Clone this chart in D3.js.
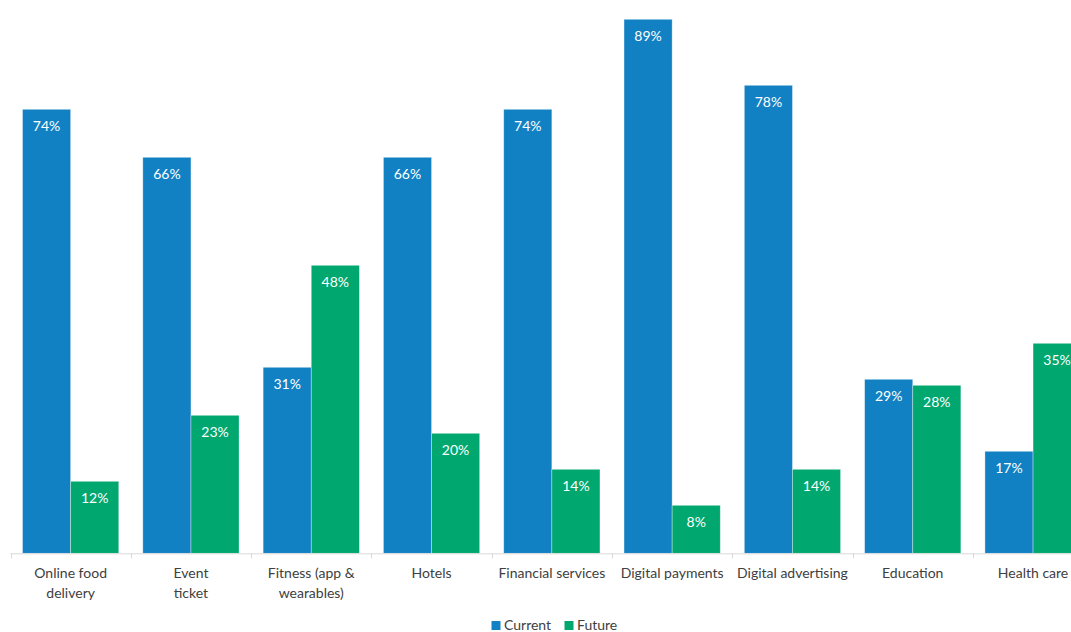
<!DOCTYPE html>
<html>
<head>
<meta charset="utf-8">
<script src="https://cdn.jsdelivr.net/npm/d3@7"></script>
<style>
  html, body { margin: 0; padding: 0; background: #fff; }
  svg { display: block; font-family: "Lato", "Open Sans", sans-serif; }
</style>
</head>
<body>
<svg id="chart" width="1071" height="632"></svg>
<script>
// Share of users by sector, current vs. future
const categories = [
  ["Online food", "delivery"],
  ["Event", "ticket"],
  ["Fitness (app &", "wearables)"],
  ["Hotels"],
  ["Financial services"],
  ["Digital payments"],
  ["Digital advertising"],
  ["Education"],
  ["Health care"]
];
const currentValues = [74, 66, 31, 66, 74, 89, 78, 29, 17];
const futureValues  = [12, 23, 48, 20, 14, 8, 14, 28, 35];
const seriesNames = ["Current", "Future"];
const seriesColors = ["#1181c4", "#00a870"];

const svg = d3.select("#chart");
const baseY = 553.3;
const step = 120.3;
const left = 10.5;

const keys = categories.map((c, i) => i);
const x0 = d3.scaleBand()
  .domain(keys)
  .range([left, left + step * categories.length])
  .paddingInner(0.2)
  .paddingOuter(0.1);
const x1 = d3.scaleBand()
  .domain(seriesNames)
  .range([0, x0.bandwidth()]);
const y = d3.scaleLinear().domain([0, 100]).range([baseY, baseY - 600]);

const rows = keys.map(i => ({ i, values: [currentValues[i], futureValues[i]] }));

const groups = svg.append("g").selectAll("g")
  .data(rows)
  .join("g")
  .attr("transform", d => `translate(${x0(d.i)},0)`);

const bars = groups.selectAll("g")
  .data(d => d.values.map((v, s) => ({ v, s })))
  .join("g");

bars.append("rect")
  .attr("x", d => x1(seriesNames[d.s]))
  .attr("y", d => y(d.v))
  .attr("width", x1.bandwidth())
  .attr("height", d => baseY - y(d.v))
  .attr("fill", d => seriesColors[d.s])
  .attr("stroke", "#ffffff")
  .attr("stroke-opacity", 0.45)
  .attr("stroke-width", 0.75);

bars.append("text")
  .attr("x", d => x1(seriesNames[d.s]) + x1.bandwidth() / 2)
  .attr("y", d => y(d.v) + 22)
  .attr("text-anchor", "middle")
  .attr("fill", "#ffffff")
  .attr("font-size", 14)
  .text(d => d.v + "%");

// category axis
const axisSpan = x0.range();
svg.append("line")
  .attr("x1", axisSpan[0]).attr("x2", axisSpan[1])
  .attr("y1", baseY + 0.5).attr("y2", baseY + 0.5)
  .attr("stroke", "#d9d9d9").attr("stroke-width", 1);

svg.append("g").selectAll("line")
  .data(d3.range(categories.length + 1))
  .join("line")
  .attr("x1", i => Math.round(axisSpan[0] + i * x0.step()) + 0.5)
  .attr("x2", i => Math.round(axisSpan[0] + i * x0.step()) + 0.5)
  .attr("y1", baseY)
  .attr("y2", baseY + 5)
  .attr("stroke", "#d9d9d9");

const catLabels = svg.append("g").selectAll("text")
  .data(rows)
  .join("text")
  .attr("x", d => x0(d.i) + x0.bandwidth() / 2)
  .attr("y", 578)
  .attr("text-anchor", "middle")
  .attr("fill", "#404040")
  .attr("font-size", 14);
catLabels.selectAll("tspan")
  .data(d => categories[d.i])
  .join("tspan")
  .attr("x", function () { return d3.select(this.parentNode).attr("x"); })
  .attr("dy", (d, j) => j === 0 ? 0 : 19.5)
  .text(d => d);

// legend
const legend = svg.append("g").attr("transform", "translate(491.5,621)");
const legendX = [0, 73];
seriesNames.forEach((name, s) => {
  const g = legend.append("g").attr("transform", `translate(${legendX[s]},0)`);
  g.append("rect").attr("x", 0).attr("y", 0).attr("width", 9).attr("height", 9)
    .attr("fill", seriesColors[s]);
  g.append("text").attr("x", 12.5).attr("y", 9).attr("font-size", 14)
    .attr("fill", "#404040").text(name);
});
</script>
</body>
</html>
